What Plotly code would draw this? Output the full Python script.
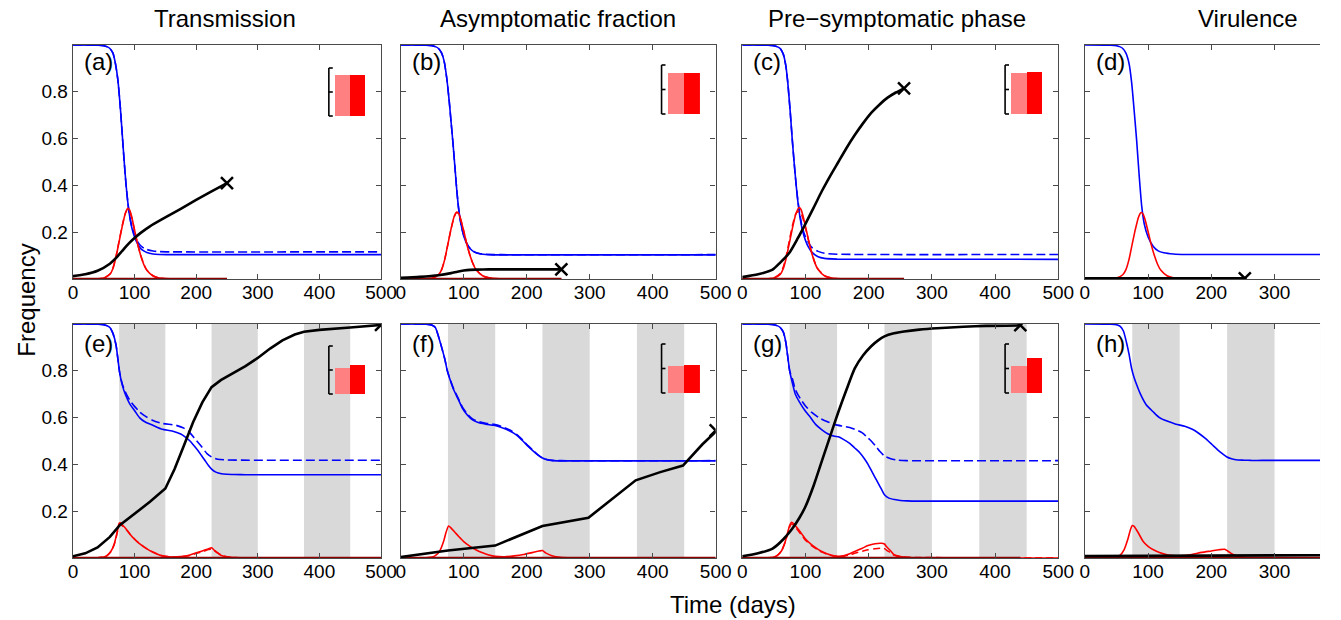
import plotly.graph_objects as go

W, H = 1341, 620
FONT = "Liberation Sans"

# ---------------- data ----------------
TITLES = ["Transmission", "Asymptomatic fraction", "Pre\u2212symptomatic phase", "Virulence"]
PANEL_LABELS = ["(a)", "(b)", "(c)", "(d)", "(e)", "(f)", "(g)", "(h)"]
X_TICKS = [0, 100, 200, 300, 400, 500]
Y_TICKS = [0.2, 0.4, 0.6, 0.8]
Y_TICK_TEXT = ["0.2", "0.4", "0.6", "0.8"]
SHADE_START = [75, 225, 375]
SHADE_END = [150, 300, 450]

# panel (a)
A_T_BLUE = [0, 40, 50, 55, 60, 65, 69, 73, 77, 80, 83, 86, 89, 92, 96, 100, 105, 110, 115, 120, 130, 140, 160, 500]
A_BLUE = [1.0, 0.999, 0.997, 0.993, 0.985, 0.965, 0.92, 0.85, 0.73, 0.62, 0.51, 0.41, 0.33, 0.27, 0.215, 0.18, 0.15, 0.13, 0.12, 0.113, 0.107, 0.105, 0.104, 0.104]
A_BLUE_D = [1.0, 0.999, 0.997, 0.993, 0.985, 0.965, 0.92, 0.85, 0.73, 0.62, 0.51, 0.41, 0.33, 0.27, 0.22, 0.19, 0.16, 0.142, 0.132, 0.126, 0.12, 0.117, 0.116, 0.116]
A_T_RED = [0, 40, 50, 60, 65, 70, 75, 80, 85, 89, 92, 95, 100, 105, 110, 115, 120, 130, 140, 150, 170, 250]
A_RED = [0, 0.001, 0.004, 0.02, 0.045, 0.095, 0.16, 0.225, 0.28, 0.302, 0.295, 0.27, 0.21, 0.15, 0.10, 0.062, 0.037, 0.013, 0.004, 0.0015, 0.0003, 0]
A_RED_D = [0, 0.001, 0.004, 0.021, 0.047, 0.098, 0.163, 0.228, 0.28, 0.298, 0.29, 0.266, 0.208, 0.15, 0.102, 0.064, 0.038, 0.014, 0.005, 0.0015, 0.0003, 0]
A_T_BLACK = [0, 20, 40, 60, 70, 80, 90, 100, 110, 125, 150, 175, 200, 225, 250]
A_BLACK = [0.012, 0.02, 0.035, 0.065, 0.09, 0.12, 0.15, 0.175, 0.197, 0.225, 0.263, 0.30, 0.338, 0.374, 0.41]
A_END = [250, 0.41]

# panel (b)
B_T_BLUE = [0, 40, 50, 55, 60, 65, 69, 73, 77, 80, 83, 86, 89, 92, 96, 100, 105, 110, 117, 125, 140, 160, 500]
B_BLUE = [1.0, 0.999, 0.997, 0.993, 0.985, 0.965, 0.93, 0.86, 0.76, 0.67, 0.58, 0.48, 0.38, 0.30, 0.23, 0.185, 0.15, 0.13, 0.115, 0.108, 0.104, 0.103, 0.103]
B_BLUE_D = [1.0, 0.999, 0.997, 0.993, 0.985, 0.965, 0.93, 0.86, 0.76, 0.67, 0.58, 0.48, 0.38, 0.30, 0.23, 0.186, 0.151, 0.131, 0.116, 0.109, 0.105, 0.104, 0.104]
B_T_RED = [0, 40, 50, 60, 65, 70, 75, 80, 85, 89, 92, 95, 100, 105, 110, 115, 120, 130, 140, 150, 170, 255]
B_RED = [0, 0.001, 0.004, 0.018, 0.04, 0.085, 0.15, 0.215, 0.268, 0.286, 0.28, 0.258, 0.205, 0.148, 0.10, 0.063, 0.038, 0.014, 0.005, 0.002, 0.0004, 0]
B_RED_D = [0, 0.001, 0.004, 0.018, 0.041, 0.086, 0.15, 0.214, 0.266, 0.284, 0.279, 0.257, 0.205, 0.149, 0.101, 0.064, 0.039, 0.014, 0.005, 0.002, 0.0004, 0]
B_T_BLACK = [0, 30, 60, 80, 90, 100, 110, 120, 140, 170, 200, 255]
B_BLACK = [0.005, 0.009, 0.016, 0.025, 0.031, 0.036, 0.039, 0.04, 0.041, 0.041, 0.041, 0.041]
B_END = [255, 0.041]

# panel (c)
C_T_BLUE = [0, 40, 50, 55, 60, 65, 69, 72, 76, 79, 82, 85, 88, 91, 95, 100, 105, 110, 120, 130, 150, 500]
C_BLUE = [1.0, 0.999, 0.997, 0.993, 0.985, 0.96, 0.91, 0.84, 0.71, 0.60, 0.50, 0.41, 0.33, 0.27, 0.21, 0.165, 0.135, 0.115, 0.095, 0.088, 0.085, 0.084]
C_BLUE_D = [1.0, 0.999, 0.997, 0.993, 0.985, 0.96, 0.91, 0.84, 0.71, 0.60, 0.50, 0.41, 0.335, 0.28, 0.22, 0.18, 0.155, 0.135, 0.118, 0.11, 0.106, 0.105]
C_T_RED = [0, 40, 50, 60, 65, 70, 75, 80, 85, 90, 93, 96, 100, 105, 110, 115, 120, 130, 140, 150, 170, 256]
C_RED = [0, 0.001, 0.004, 0.02, 0.045, 0.095, 0.16, 0.225, 0.28, 0.305, 0.297, 0.27, 0.225, 0.165, 0.11, 0.068, 0.04, 0.014, 0.005, 0.0015, 0.0003, 0]
C_RED_D = [0, 0.001, 0.005, 0.024, 0.052, 0.105, 0.172, 0.235, 0.28, 0.29, 0.28, 0.258, 0.218, 0.163, 0.112, 0.07, 0.042, 0.015, 0.005, 0.0015, 0.0003, 0]
C_T_BLACK = [0, 25, 48, 60, 74, 87, 100, 113, 126, 139, 152, 165, 178, 191, 204, 217, 230, 243, 256]
C_BLACK = [0.008, 0.02, 0.04, 0.07, 0.11, 0.17, 0.236, 0.305, 0.376, 0.44, 0.50, 0.56, 0.615, 0.665, 0.71, 0.745, 0.775, 0.797, 0.815]
C_END = [256, 0.815]

# panel (d)
D_T_BLUE = [0, 40, 50, 55, 60, 65, 70, 74, 78, 82, 86, 90, 94, 100, 108, 116, 125, 140, 160, 372]
D_BLUE = [1.0, 0.999, 0.997, 0.993, 0.985, 0.965, 0.92, 0.84, 0.72, 0.59, 0.44, 0.31, 0.235, 0.18, 0.14, 0.12, 0.112, 0.107, 0.105, 0.105]
D_T_RED = [0, 40, 50, 60, 65, 70, 75, 80, 85, 89, 92, 95, 100, 105, 110, 115, 120, 130, 140, 150, 170, 253]
D_RED = [0, 0.001, 0.004, 0.018, 0.04, 0.085, 0.15, 0.213, 0.265, 0.284, 0.278, 0.256, 0.203, 0.147, 0.10, 0.063, 0.038, 0.014, 0.005, 0.002, 0.0004, 0]
D_T_BLACK = [0, 100, 200, 253]
D_BLACK = [0.003, 0.003, 0.003, 0.003]
D_END = [253, 0.003]

# panel (e)
E_T_BLUE = [0, 40, 50, 55, 60, 65, 70, 73, 76, 80, 85, 92, 100, 108, 118, 129, 145, 161, 175, 182, 190, 198, 206, 214, 220, 225, 232, 241, 250, 262, 280, 500]
E_BLUE = [1.0, 0.999, 0.997, 0.993, 0.985, 0.96, 0.91, 0.85, 0.79, 0.74, 0.70, 0.66, 0.63, 0.60, 0.58, 0.568, 0.55, 0.543, 0.53, 0.518, 0.50, 0.475, 0.448, 0.418, 0.395, 0.38, 0.367, 0.36, 0.358, 0.357, 0.356, 0.356]
E_T_BLUE_D = [0, 40, 50, 55, 60, 65, 70, 73, 76, 80, 85, 92, 100, 108, 118, 129, 145, 166, 180, 188, 198, 209, 218, 225, 235, 250, 500]
E_BLUE_D = [1.0, 0.999, 0.997, 0.993, 0.985, 0.96, 0.91, 0.85, 0.79, 0.745, 0.71, 0.675, 0.648, 0.625, 0.605, 0.589, 0.575, 0.568, 0.555, 0.54, 0.51, 0.475, 0.445, 0.432, 0.422, 0.419, 0.418]
E_T_RED = [0, 40, 50, 55, 62, 67, 70, 73, 75, 77, 80, 86, 92, 100, 108, 118, 129, 145, 161, 175, 190, 198, 210, 220, 225, 230, 241, 250, 262, 280, 500]
E_RED = [0, 0.001, 0.004, 0.01, 0.03, 0.06, 0.09, 0.125, 0.148, 0.15, 0.142, 0.125, 0.104, 0.08, 0.061, 0.042, 0.026, 0.009, 0.004, 0.006, 0.013, 0.02, 0.03, 0.04, 0.044, 0.032, 0.011, 0.005, 0.002, 0.001, 0]
E_RED_D = [0, 0.001, 0.004, 0.009, 0.028, 0.057, 0.086, 0.12, 0.14, 0.143, 0.138, 0.123, 0.104, 0.081, 0.062, 0.043, 0.027, 0.01, 0.004, 0.005, 0.011, 0.018, 0.027, 0.036, 0.039, 0.031, 0.012, 0.005, 0.002, 0.001, 0]
E_T_BLACK = [0, 20, 40, 60, 76, 100, 125, 150, 165, 180, 195, 210, 225, 240, 260, 280, 300, 320, 340, 360, 375, 400, 450, 500]
E_BLACK = [0.007, 0.02, 0.045, 0.09, 0.14, 0.19, 0.24, 0.297, 0.38, 0.48, 0.58, 0.665, 0.73, 0.76, 0.79, 0.82, 0.855, 0.895, 0.93, 0.955, 0.967, 0.975, 0.985, 0.996]
E_END = [500, 0.996]

# panel (f)
F_T_BLUE = [0, 40, 50, 55, 60, 65, 70, 74, 78, 84, 91, 98, 106, 114, 122, 135, 148, 160, 174, 184, 194, 202, 210, 218, 225, 232, 241, 255, 500]
F_BLUE = [1.0, 0.999, 0.995, 0.985, 0.947, 0.90, 0.85, 0.80, 0.765, 0.72, 0.68, 0.64, 0.61, 0.59, 0.58, 0.572, 0.567, 0.558, 0.542, 0.525, 0.50, 0.478, 0.458, 0.44, 0.427, 0.42, 0.416, 0.415, 0.415]
F_BLUE_D = [1.0, 0.999, 0.995, 0.985, 0.947, 0.90, 0.85, 0.80, 0.767, 0.723, 0.684, 0.645, 0.615, 0.594, 0.584, 0.576, 0.571, 0.562, 0.546, 0.528, 0.503, 0.48, 0.46, 0.441, 0.428, 0.421, 0.417, 0.416, 0.416]
F_T_RED = [0, 40, 50, 55, 62, 68, 72, 76, 80, 86, 92, 100, 110, 120, 130, 140, 150, 165, 180, 195, 210, 220, 225, 230, 240, 250, 265, 500]
F_RED = [0, 0.001, 0.004, 0.01, 0.03, 0.07, 0.11, 0.137, 0.128, 0.11, 0.092, 0.07, 0.05, 0.034, 0.022, 0.013, 0.007, 0.005, 0.009, 0.015, 0.024, 0.03, 0.032, 0.022, 0.01, 0.004, 0.001, 0]
F_T_BLACK = [0, 75, 150, 189, 225, 298, 334, 373, 412, 448, 479, 500]
F_BLACK = [0.004, 0.032, 0.053, 0.095, 0.137, 0.172, 0.249, 0.332, 0.367, 0.395, 0.486, 0.54]
F_END = [500, 0.545]

# panel (g)
G_T_BLUE = [0, 40, 50, 55, 60, 65, 69, 72, 75, 80, 84, 92, 100, 108, 116, 126, 136, 146, 152, 160, 170, 178, 186, 193, 199, 205, 210, 215, 220, 225, 232, 241, 250, 261, 280, 500]
G_BLUE = [1.0, 0.999, 0.997, 0.993, 0.985, 0.965, 0.92, 0.86, 0.80, 0.74, 0.70, 0.66, 0.627, 0.60, 0.571, 0.548, 0.53, 0.52, 0.518, 0.507, 0.49, 0.47, 0.45, 0.425, 0.40, 0.37, 0.345, 0.32, 0.295, 0.27, 0.256, 0.25, 0.246, 0.244, 0.243, 0.243]
G_T_BLUE_D = [0, 40, 50, 55, 60, 65, 69, 72, 75, 80, 84, 92, 100, 110, 121, 134, 147, 160, 170, 178, 190, 198, 204, 212, 218, 225, 235, 246, 260, 500]
G_BLUE_D = [1.0, 0.999, 0.997, 0.993, 0.985, 0.965, 0.92, 0.86, 0.80, 0.76, 0.72, 0.68, 0.65, 0.622, 0.60, 0.583, 0.57, 0.563, 0.558, 0.55, 0.535, 0.515, 0.50, 0.475, 0.455, 0.436, 0.424, 0.418, 0.416, 0.416]
G_T_RED = [0, 40, 50, 55, 62, 68, 72, 75, 78, 82, 88, 95, 100, 110, 120, 126, 135, 145, 152, 160, 170, 178, 190, 199, 210, 220, 225, 228, 235, 240, 250, 265, 280, 500]
G_RED = [0, 0.001, 0.004, 0.01, 0.03, 0.07, 0.11, 0.14, 0.153, 0.145, 0.125, 0.10, 0.081, 0.056, 0.037, 0.028, 0.017, 0.009, 0.007, 0.009, 0.018, 0.028, 0.042, 0.053, 0.061, 0.063, 0.06, 0.049, 0.03, 0.014, 0.006, 0.002, 0.001, 0]
G_RED_D = [0, 0.001, 0.004, 0.01, 0.03, 0.068, 0.105, 0.133, 0.145, 0.138, 0.118, 0.094, 0.076, 0.052, 0.034, 0.025, 0.015, 0.008, 0.006, 0.007, 0.013, 0.02, 0.029, 0.035, 0.04, 0.042, 0.04, 0.034, 0.022, 0.012, 0.006, 0.003, 0.002, 0.001]
G_T_BLACK = [0, 25, 48, 65, 79, 90, 100, 113, 126, 139, 152, 165, 178, 191, 204, 215, 225, 240, 256, 280, 308, 350, 386, 440]
G_BLACK = [0.007, 0.02, 0.04, 0.08, 0.125, 0.17, 0.22, 0.31, 0.415, 0.52, 0.624, 0.72, 0.81, 0.865, 0.905, 0.93, 0.947, 0.96, 0.968, 0.976, 0.982, 0.988, 0.992, 0.994]
G_END = [440, 0.995]

# panel (h)
H_T_BLUE = [0, 40, 50, 56, 61, 66, 70, 74, 78, 82, 88, 97, 108, 118, 130, 144, 158, 170, 180, 191, 201, 211, 218, 224, 232, 242, 252, 263, 280, 372]
H_BLUE = [1.0, 0.999, 0.997, 0.99, 0.97, 0.92, 0.87, 0.81, 0.77, 0.74, 0.70, 0.655, 0.625, 0.60, 0.585, 0.572, 0.563, 0.55, 0.533, 0.51, 0.485, 0.46, 0.445, 0.433, 0.424, 0.419, 0.418, 0.417, 0.417, 0.417]
H_T_RED = [0, 40, 46, 55, 62, 68, 72, 75, 78, 84, 92, 100, 110, 118, 130, 139, 150, 165, 185, 200, 212, 221, 226, 232, 240, 253, 270, 372]
H_RED = [0, 0.001, 0.002, 0.01, 0.035, 0.08, 0.12, 0.139, 0.135, 0.11, 0.072, 0.05, 0.033, 0.024, 0.014, 0.01, 0.009, 0.013, 0.024, 0.03, 0.035, 0.0375, 0.03, 0.018, 0.008, 0.002, 0.001, 0]
H_T_BLACK = [0, 100, 200, 300, 372]
H_BLACK = [0.008, 0.009, 0.010, 0.011, 0.012]

# inset bar heights (light, dark) on a 0..2 bracket scale
INSET_BARS = {0: [1.72, 1.72], 1: [1.69, 1.69], 2: [1.69, 1.73], 4: [1.08, 1.21], 5: [1.12, 1.16], 6: [1.12, 1.44]}

PANELS = [
    dict(tb=A_T_BLUE, b=A_BLUE, tbd=A_T_BLUE, bd=A_BLUE_D, tr=A_T_RED, r=A_RED, rd=A_RED_D, tk=A_T_BLACK, k=A_BLACK, end=A_END, kshape="spline"),
    dict(tb=B_T_BLUE, b=B_BLUE, tbd=B_T_BLUE, bd=B_BLUE_D, tr=B_T_RED, r=B_RED, rd=B_RED_D, tk=B_T_BLACK, k=B_BLACK, end=B_END, kshape="spline"),
    dict(tb=C_T_BLUE, b=C_BLUE, tbd=C_T_BLUE, bd=C_BLUE_D, tr=C_T_RED, r=C_RED, rd=C_RED_D, tk=C_T_BLACK, k=C_BLACK, end=C_END, kshape="spline"),
    dict(tb=D_T_BLUE, b=D_BLUE, tbd=None, bd=None, tr=D_T_RED, r=D_RED, rd=None, tk=D_T_BLACK, k=D_BLACK, end=D_END, kshape="linear"),
    dict(tb=E_T_BLUE, b=E_BLUE, tbd=E_T_BLUE_D, bd=E_BLUE_D, tr=E_T_RED, r=E_RED, rd=E_RED_D, tk=E_T_BLACK, k=E_BLACK, end=E_END, kshape="linear"),
    dict(tb=F_T_BLUE, b=F_BLUE, tbd=F_T_BLUE, bd=F_BLUE_D, tr=F_T_RED, r=F_RED, rd=None, tk=F_T_BLACK, k=F_BLACK, end=F_END, kshape="linear"),
    dict(tb=G_T_BLUE, b=G_BLUE, tbd=G_T_BLUE_D, bd=G_BLUE_D, tr=G_T_RED, r=G_RED, rd=G_RED_D, tk=G_T_BLACK, k=G_BLACK, end=G_END, kshape="spline"),
    dict(tb=H_T_BLUE, b=H_BLUE, tbd=None, bd=None, tr=H_T_RED, r=H_RED, rd=None, tk=H_T_BLACK, k=H_BLACK, end=None, kshape="linear"),
]

# ---------------- layout geometry (pixels) ----------------
COLS = [(69, 382, 500), (402, 722, 500), (749, 1070, 500), (1097, 1336, 372)]
ROWS = [(45, 279), (324, 558)]
INSET_X = [(329, 366), (667, 706), (1016, 1054)]
INSET_Y = {0: (68, 116), 1: (65, 114), 2: (65, 114), 4: (346, 394), 5: (344, 393), 6: (344, 393)}

AXC = "#4a4a4a"
BLUE = "#0000FF"
RED = "#FF0000"
DARKRED = "#8B0000"

fig = go.Figure()
layout = dict(
    width=W, height=H, margin=dict(l=0, r=0, t=0, b=0),
    paper_bgcolor="white", plot_bgcolor="rgba(0,0,0,0)",
    showlegend=False, font=dict(family=FONT, color="black"),
)
shapes = []
annotations = []

def fx(px):
    return px / W

def fy(py):
    return 1 - py / H

for i, p in enumerate(PANELS):
    r, c = divmod(i, 4)
    x0, x1, xmax = COLS[c]
    y0, y1 = ROWS[r]
    n = i + 1
    xa, ya = f"x{n}", f"y{n}"
    last_col = (c == 3)
    layout[f"xaxis{n}"] = dict(
        domain=[fx(x0), fx(x1)], range=[0, xmax], anchor=ya,
        tickvals=[t for t in X_TICKS if t <= xmax], ticks="inside", ticklen=5, tickwidth=1.2,
        tickcolor=AXC, showline=True, linecolor=AXC, linewidth=1.4, mirror="ticks",
        showgrid=False, zeroline=False, ticklabelstandoff=-4,
        tickfont=dict(size=19, family=FONT, color="black"),
    )
    layout[f"yaxis{n}"] = dict(
        domain=[fy(y1), fy(y0)], range=[0, 1], anchor=xa,
        tickvals=Y_TICKS, ticktext=Y_TICK_TEXT, showticklabels=(c == 0),
        ticks="inside", ticklen=5, tickwidth=1.2, tickcolor=AXC,
        showline=True, linecolor=AXC, linewidth=1.4, mirror=(False if last_col else "ticks"),
        showgrid=False, zeroline=False, tickfont=dict(size=19, family=FONT, color="black"),
    )
    if r == 1:
        for s0, s1 in zip(SHADE_START, SHADE_END):
            shapes.append(dict(type="rect", xref=xa, yref=f"{ya} domain", x0=s0, x1=min(s1, xmax),
                               y0=0, y1=1, fillcolor="#D9D9D9", line=dict(width=0), layer="below"))
    smooth = dict(shape="spline", smoothing=0.6)
    if p["bd"] is not None:
        fig.add_trace(go.Scatter(x=p["tbd"], y=p["bd"], mode="lines", xaxis=xa, yaxis=ya,
                                 line=dict(color=BLUE, width=1.6, dash="9px,4px", **smooth)))
    fig.add_trace(go.Scatter(x=p["tb"], y=p["b"], mode="lines", xaxis=xa, yaxis=ya,
                             line=dict(color=BLUE, width=1.6, **smooth)))
    if p["rd"] is not None:
        fig.add_trace(go.Scatter(x=p["tr"], y=p["rd"], mode="lines", xaxis=xa, yaxis=ya,
                                 line=dict(color=RED, width=1.5, dash="7px,4px", **smooth)))
    fig.add_trace(go.Scatter(x=p["tr"], y=p["r"], mode="lines", xaxis=xa, yaxis=ya,
                             line=dict(color=RED, width=1.6, **smooth)))
    tend = p["tk"][-1]
    fig.add_trace(go.Scatter(x=[0, tend], y=[0.002, 0.002], mode="lines", xaxis=xa, yaxis=ya,
                             line=dict(color=DARKRED, width=1.6)))
    kline = dict(color="black", width=2.6)
    if p["kshape"] == "spline":
        kline.update(shape="spline", smoothing=0.6)
    fig.add_trace(go.Scatter(x=p["tk"], y=p["k"], mode="lines", xaxis=xa, yaxis=ya, line=kline))
    if p["end"] is not None:
        fig.add_trace(go.Scatter(x=[p["end"][0]], y=[p["end"][1]], mode="markers", xaxis=xa, yaxis=ya,
                                 marker=dict(symbol="x-thin", size=12, color="black",
                                             line=dict(color="black", width=2.5))))
    ly = 62 if r == 0 else 343
    annotations.append(dict(text=PANEL_LABELS[i], xref="paper", yref="paper", x=fx(x0 + 9), y=fy(ly),
                            xanchor="left", yanchor="middle", showarrow=False,
                            font=dict(size=24, family=FONT, color="black")))

# insets: bars on their own small axes, bracket drawn as paper lines
k = 9
for i, vals in INSET_BARS.items():
    c = i % 4
    bx0, bx1 = INSET_X[c]
    iy0, iy1 = INSET_Y[i]
    xa, ya = f"x{k}", f"y{k}"
    layout[f"xaxis{k}"] = dict(domain=[fx(bx0), fx(bx1)], range=[-0.9, 1.5], anchor=ya, visible=False)
    layout[f"yaxis{k}"] = dict(domain=[fy(iy1), fy(iy0)], range=[0, 2], anchor=xa, visible=False)
    fig.add_trace(go.Bar(x=[0, 1], y=vals, width=[1, 1], xaxis=xa, yaxis=ya,
                         marker=dict(color=["#FF8080", "#FF0000"], line=dict(width=0))))
    bl = dict(color="black", width=1.6)
    shapes.append(dict(type="line", xref="paper", yref="paper", x0=fx(bx0), x1=fx(bx0),
                       y0=fy(iy0), y1=fy(iy1), line=bl))
    for yy in (iy0, (iy0 + iy1) / 2, iy1):
        shapes.append(dict(type="line", xref="paper", yref="paper", x0=fx(bx0), x1=fx(bx0 + 4),
                           y0=fy(yy), y1=fy(yy), line=bl))
    k += 1

# titles
TITLE_X = [223, 562, 906, 1263]
for t, x in zip(TITLES, TITLE_X):
    annotations.append(dict(text=t, xref="paper", yref="paper", x=fx(x), y=fy(19), xanchor="center",
                            yanchor="middle", showarrow=False, font=dict(size=24, family=FONT, color="black")))
annotations.append(dict(text="Frequency", xref="paper", yref="paper", x=fx(21), y=fy(300), textangle=-90,
                        xanchor="center", yanchor="middle", showarrow=False,
                        font=dict(size=24, family=FONT, color="black")))
annotations.append(dict(text="Time (days)", xref="paper", yref="paper", x=fx(740), y=fy(604),
                        xanchor="center", yanchor="middle", showarrow=False,
                        font=dict(size=24, family=FONT, color="black")))

layout["shapes"] = shapes
layout["annotations"] = annotations
layout["bargap"] = 0
fig.update_layout(**layout)
fig.write_html("out.html")
